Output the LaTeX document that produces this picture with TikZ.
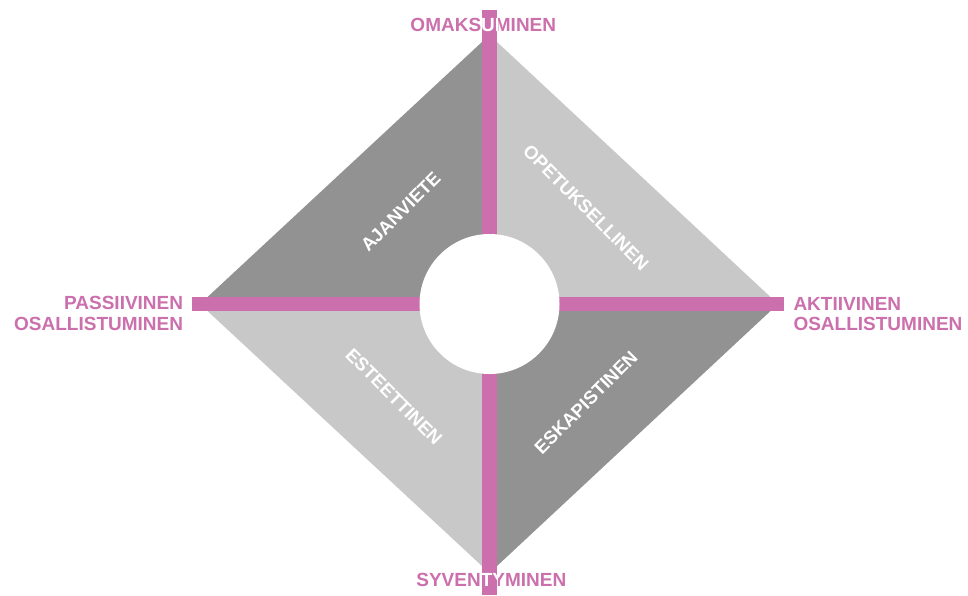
\documentclass[tikz,border=0pt]{standalone}
\usepackage{fontspec}
\setmainfont{Liberation Sans}
\definecolor{pinkbar}{HTML}{CC70AD}
\definecolor{darkq}{HTML}{929292}
\definecolor{lightq}{HTML}{C8C8C8}
\begin{document}
\begin{tikzpicture}[x=1pt,y=-1pt,
  lbl/.style={font=\bfseries\fontsize{19}{20}\selectfont, text=pinkbar, inner sep=0pt},
  lblw/.style={lbl, text=white},
  inlbl/.style={font=\bfseries\fontsize{18.5}{20}\selectfont, text=white, inner sep=0pt},
  barfill/.style={fill=pinkbar}]
\fill[white] (0,0) rectangle (968,595);
\useasboundingbox (0,0) rectangle (968,595);
% diamond
\coordinate (C) at (489.5,304);
\coordinate (T) at (489.5,35);
\coordinate (B) at (489.5,573);
\coordinate (L) at (200,304);
\coordinate (R) at (778,304);
\fill[darkq]  (T) -- (C) -- (L) -- cycle;
\fill[lightq] (T) -- (C) -- (R) -- cycle;
\fill[lightq] (B) -- (C) -- (L) -- cycle;
\fill[darkq]  (B) -- (C) -- (R) -- cycle;
% outer labels
\node[lbl, anchor=base] (top) at (483.3,31.7) {OMAKSUMINEN};
\node[lbl, anchor=base] (bot) at (491.3,586) {SYVENTYMINEN};
\node[lbl, anchor=base east] (pas1) at (183.3,309) {PASSIIVINEN};
\node[lbl, anchor=base east] (pas2) at (183.3,330) {OSALLISTUMINEN};
\node[lbl, anchor=base west] (akt1) at (793.3,310) {AKTIIVINEN};
\node[lbl, anchor=base west] (akt2) at (793.3,330) {OSALLISTUMINEN};
% bars
\fill[barfill] (481.7,10) rectangle (497.3,595);
\fill[barfill] (192,296.8) rectangle (784.4,311.4);
% white letters where labels cross the bar
\begin{scope}
  \clip (481.7,10) rectangle (497.3,595);
  \node[lblw, anchor=base] (topw) at (483.3,31.7) {OMAKSUMINEN};
  \node[lblw, anchor=base] (botw) at (491.3,586) {SYVENTYMINEN};
\end{scope}
% centre circle
\fill[white] (C) circle (70pt);
% inner labels
\node[inlbl, rotate=45]  (ajan) at (400.8,211.8) {AJANVIETE};
\node[inlbl, rotate=-45] (opet) at (586,207.5) {OPETUKSELLINEN};
\node[inlbl, rotate=-45] (este) at (394,396.7) {ESTEETTINEN};
\node[inlbl, rotate=45]  (eska) at (586,402.5) {ESKAPISTINEN};
\end{tikzpicture}
\end{document}
